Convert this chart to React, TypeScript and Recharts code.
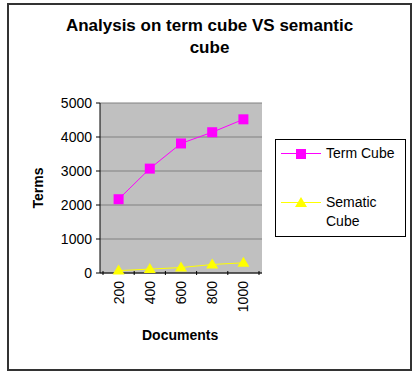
import React from 'react';
import { LineChart, Line, XAxis, YAxis, CartesianGrid } from 'recharts';

const documents = ['200', '400', '600', '800', '1000'];
const termCube = [2170, 3070, 3810, 4140, 4520];
const sematicCube = [70, 115, 160, 250, 300];
const yTicks = [0, 1000, 2000, 3000, 4000, 5000];

const data = documents.map((d, i) => ({
  doc: d,
  term: termCube[i],
  sematic: sematicCube[i],
}));

const FONT = '"Liberation Sans", Arial, sans-serif';

const SquareDot = (props: any) => {
  const { cx, cy } = props;
  if (cx == null || cy == null) return null;
  return <rect x={cx - 5} y={cy - 5} width={10} height={10} fill="#FF00FF" />;
};

const TriangleDot = (props: any) => {
  const { cx, cy } = props;
  if (cx == null || cy == null) return null;
  return <polygon points={`${cx},${cy - 6} ${cx - 6},${cy + 4} ${cx + 6},${cy + 4}`} fill="#FFFF00" />;
};

const XTick = (props: any) => {
  const { x, y, payload, index } = props;
  const half = 15.6;
  return (
    <g>
      <line x1={x - half} y1={y - 8} x2={x - half} y2={y - 4} stroke="#000" />
      {index === documents.length - 1 && (
        <line x1={x + half} y1={y - 8} x2={x + half} y2={y - 4} stroke="#000" />
      )}
      <text
        x={x}
        y={y + 2}
        transform={`rotate(-90, ${x}, ${y + 2})`}
        textAnchor="end"
        dominantBaseline="central"
        fontSize={14}
        fontFamily={FONT}
        fill="#000"
      >
        {payload.value}
      </text>
    </g>
  );
};

const LegendBox = () => (
  <div
    style={{
      position: 'absolute',
      left: 275,
      top: 139,
      border: '1px solid #000',
      width: 131,
      height: 98,
      background: '#fff',
      fontFamily: FONT,
      fontSize: 14,
      boxSizing: 'border-box',
    }}
  >
    <svg width={50} height={96} style={{ position: 'absolute', left: 0, top: 0 }}>
      <line x1={5} y1={13.5} x2={45} y2={13.5} stroke="#FF00FF" />
      <rect x={20} y={9} width={10} height={10} fill="#FF00FF" />
      <line x1={5} y1={62.5} x2={45} y2={62.5} stroke="#FFFF00" />
      <polygon points="25,57 19,67 31,67" fill="#FFFF00" />
    </svg>
    <div style={{ position: 'absolute', left: 50, top: 4, lineHeight: '18px' }}>Term Cube</div>
    <div style={{ position: 'absolute', left: 50, top: 53, lineHeight: '19px' }}>
      Sematic
      <br />
      Cube
    </div>
  </div>
);

export default function App() {
  return (
    <div style={{ position: 'absolute', left: 0, top: 0, width: 419, height: 374, background: '#fff' }}>
      <div
        style={{
          position: 'absolute',
          left: 7,
          top: 3,
          width: 405,
          height: 368,
          border: '2px solid #333',
          boxSizing: 'border-box',
        }}
      />
      <div
        style={{
          position: 'absolute',
          left: 0,
          top: 15,
          width: 419,
          textAlign: 'center',
          fontFamily: FONT,
          fontWeight: 'bold',
          fontSize: 17,
          lineHeight: '22px',
        }}
      >
        Analysis on term cube VS semantic
        <br />
        cube
      </div>
      <div
        style={{
          position: 'absolute',
          left: 142,
          top: 327,
          fontFamily: FONT,
          fontWeight: 'bold',
          fontSize: 14,
        }}
      >
        Documents
      </div>
      <div
        style={{
          position: 'absolute',
          left: 38,
          top: 188,
          transform: 'translate(-50%, -50%) rotate(-90deg)',
          fontFamily: FONT,
          fontWeight: 'bold',
          fontSize: 14,
          whiteSpace: 'nowrap',
        }}
      >
        Terms
      </div>
      <div style={{ position: 'absolute', left: 0, top: 0 }}>
        <LineChart
          width={419}
          height={374}
          data={data}
          margin={{ top: 103, right: 157, bottom: 51, left: 40 }}
        >
          <CartesianGrid fill="#C0C0C0" stroke="#808080" vertical={false} />
          <XAxis
            dataKey="doc"
            scale="band"
            padding={{ left: 3, right: 3 }}
            height={50}
            axisLine={{ stroke: '#000' }}
            tickLine={false}
            tick={<XTick />}
            tickMargin={0}
            interval={0}
          />
          <YAxis
            width={60}
            domain={[0, 5000]}
            ticks={yTicks}
            axisLine={{ stroke: '#000' }}
            tickLine={{ stroke: '#000' }}
            tickSize={4}
            tickMargin={4}
            tick={{ fill: '#000', fontSize: 14, fontFamily: FONT }}
            interval={0}
          />
          <Line
            dataKey="term"
            name="Term Cube"
            stroke="#FF00FF"
            strokeWidth={1}
            dot={<SquareDot />}
            activeDot={false}
            isAnimationActive={false}
          />
          <Line
            dataKey="sematic"
            name="Sematic Cube"
            stroke="#FFFF00"
            strokeWidth={1}
            dot={<TriangleDot />}
            activeDot={false}
            isAnimationActive={false}
          />
        </LineChart>
      </div>
      <LegendBox />
    </div>
  );
}
